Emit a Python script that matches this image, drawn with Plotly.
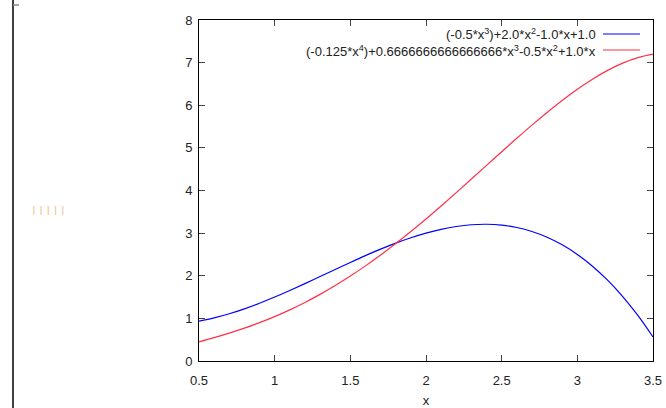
import plotly.graph_objects as go

x_vals = [0.5, 0.6, 0.7, 0.8, 0.9, 1.0, 1.1, 1.2, 1.3, 1.4, 1.5, 1.6, 1.7, 1.8, 1.9, 2.0,
          2.1, 2.2, 2.3, 2.4, 2.5, 2.6, 2.7, 2.8, 2.9, 3.0, 3.1, 3.2, 3.3, 3.4, 3.5]
blue_vals = [0.9375, 1.012, 1.1085, 1.224, 1.3555, 1.5, 1.6545, 1.816, 1.9815, 2.148, 2.3125,
             2.472, 2.6235, 2.764, 2.8905, 3.0, 3.0895, 3.156, 3.1965, 3.208, 3.1875, 3.132,
             3.0385, 2.904, 2.7255, 2.5, 2.2245, 1.896, 1.5115, 1.068, 0.5625]
red_vals = [0.4505, 0.5478, 0.6537, 0.7701, 0.8990, 1.0417, 1.1993, 1.3728, 1.5627, 1.7691,
            1.9922, 2.2315, 2.4863, 2.7558, 3.0387, 3.3333, 3.6380, 3.9505, 4.2683, 4.5888,
            4.9089, 5.2251, 5.5340, 5.8315, 6.1133, 6.375, 6.6117, 6.8181, 6.9890, 7.1185, 7.2005]
blue_label = "(-0.5*x<sup>3</sup>)+2.0*x<sup>2</sup>-1.0*x+1.0"
red_label = "(-0.125*x<sup>4</sup>)+0.6666666666666666*x<sup>3</sup>-0.5*x<sup>2</sup>+1.0*x"
x_ticks = [0.5, 1, 1.5, 2, 2.5, 3, 3.5]
x_tick_text = ["0.5", "1", "1.5", "2", "2.5", "3", "3.5"]
y_ticks = [0, 1, 2, 3, 4, 5, 6, 7, 8]

fig = go.Figure()
fig.add_trace(go.Scatter(x=x_vals, y=blue_vals, mode="lines", line=dict(color="#0000ff", width=1.2, shape="spline"),
                         showlegend=False, hoverinfo="skip"))
fig.add_trace(go.Scatter(x=x_vals, y=red_vals, mode="lines", line=dict(color="#ff3048", width=1.2, shape="spline"),
                         showlegend=False, hoverinfo="skip"))

font = dict(family="Liberation Sans, Arial, sans-serif", size=12, color="#222222")
lfont = dict(family="Liberation Sans, Arial, sans-serif", size=13, color="#222222")

fig.update_layout(
    width=666, height=408,
    margin=dict(l=199, r=13, t=20, b=47),
    paper_bgcolor="white", plot_bgcolor="white",
    font=font,
    xaxis=dict(range=[0.5, 3.5], tickvals=x_ticks, ticktext=x_tick_text, ticks="inside", ticklen=6,
               showline=True, linecolor="black", linewidth=1, mirror="ticks", showgrid=False,
               zeroline=False, tickfont=lfont, automargin=False, ticklabelstandoff=7,
               title=dict(text="x", font=lfont, standoff=12)),
    yaxis=dict(range=[0, 8], tickvals=y_ticks, ticks="inside", ticklen=6,
               showline=True, linecolor="black", linewidth=1, mirror="ticks", showgrid=False,
               zeroline=False, tickfont=lfont, automargin=False, ticklabelstandoff=3),
)

# legend (gnuplot style: text right-aligned, sample on the right)
fig.add_annotation(xref="paper", yref="paper", x=(598 - 199) / 454, y=1 - (34 - 20) / 341,
                   xanchor="right", yanchor="middle", text=blue_label, showarrow=False, font=lfont)
fig.add_annotation(xref="paper", yref="paper", x=(598 - 199) / 454, y=1 - (51 - 20) / 341,
                   xanchor="right", yanchor="middle", text=red_label, showarrow=False, font=lfont)
fig.add_shape(type="line", xref="paper", yref="paper", x0=(603 - 199) / 454, x1=(640 - 199) / 454,
              y0=1 - (34 - 20) / 341, y1=1 - (34 - 20) / 341, line=dict(color="#0000ff", width=1.2))
fig.add_shape(type="line", xref="paper", yref="paper", x0=(603 - 199) / 454, x1=(640 - 199) / 454,
              y0=1 - (50 - 20) / 341, y1=1 - (50 - 20) / 341, line=dict(color="#ff3048", width=1.2))

# page decorations: left border line and faint label
fig.add_shape(type="line", xref="paper", yref="paper", x0=-(199 - 13) / 454, x1=-(199 - 13) / 454,
              y0=-47 / 341, y1=1 + 20 / 341, line=dict(color="black", width=1.5))
fig.add_shape(type="line", xref="paper", yref="paper", x0=-(199 - 13) / 454, x1=-(199 - 19) / 454,
              y0=1 + 15 / 341, y1=1 + 15 / 341, line=dict(color="#888888", width=1.5))
fig.add_annotation(xref="paper", yref="paper", x=-(199 - 30) / 454, y=1 - (211 - 20) / 341,
                   xanchor="left", yanchor="middle", text="I I I I I", showarrow=False,
                   font=dict(family="Liberation Sans, Arial, sans-serif", size=13, color="rgba(235,150,80,0.55)"))

fig.write_html("out.html", config={"displayModeBar": False},
               post_script="document.body.style.margin='0';document.body.style.overflow='hidden';")
